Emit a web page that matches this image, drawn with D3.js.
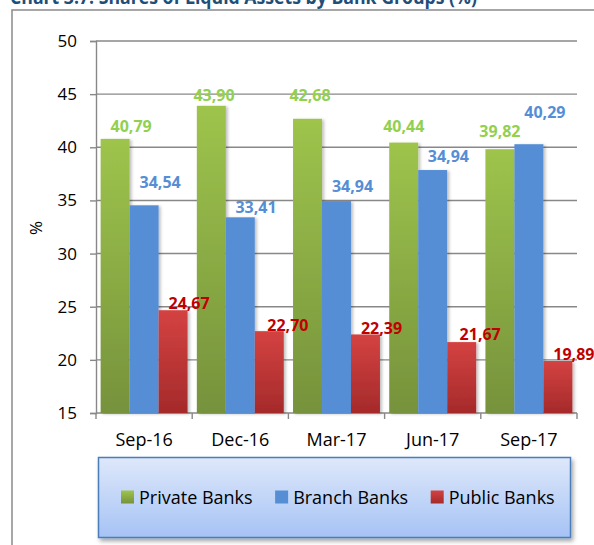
<!DOCTYPE html>
<html>
<head>
<meta charset="utf-8">
<script src="https://cdn.jsdelivr.net/npm/d3@7"></script>
<style>
  html, body { margin: 0; padding: 0; background: #ffffff; }
  svg { display: block; font-family: "Open Sans", "DejaVu Sans", sans-serif; }
</style>
</head>
<body>
<svg id="chart" width="594" height="545"></svg>
<script>
// ---------- data ----------
const title = "Chart 3.7: Shares of Liquid Assets by Bank Groups (%)";
const categories = ["Sep-16", "Dec-16", "Mar-17", "Jun-17", "Sep-17"];
const seriesNames = ["Private Banks", "Branch Banks", "Public Banks"];
const privateBanks = [40.79, 43.90, 42.68, 40.44, 39.82];
const branchBanks = [34.54, 33.41, 34.94, 37.86, 40.29];
const publicBanks = [24.67, 22.70, 22.39, 21.67, 19.89];
const privateLabels = ["40,79", "43,90", "42,68", "40,44", "39,82"];
const branchLabels = ["34,54", "33,41", "34,94", "34,94", "40,29"];
const publicLabels = ["24,67", "22,70", "22,39", "21,67", "19,89"];
const yTicks = [15, 20, 25, 30, 35, 40, 45, 50];
const yTitle = "%";

// ---------- layout (label placement nudges, px) ----------
const labelNudge = {
  "Private Banks": { dx: [16, 2.7, 2.5, 0, 0], dy: [-12.8, -10.9, -23.5, -16.5, -18.5] },
  "Branch Banks":  { dx: [16, 15.7, 16, 15.7, 16], dy: [-23.2, -10.6, -15.2, -14.5, -32.6] },
  "Public Banks":  { dx: [16, 18.6, 16, 18.5, 16], dy: [-7.6, -6.5, -6.5, -8.2, -7.1] }
};

const seriesValues = { "Private Banks": privateBanks, "Branch Banks": branchBanks, "Public Banks": publicBanks };
const seriesLabels = { "Private Banks": privateLabels, "Branch Banks": branchLabels, "Public Banks": publicLabels };
const labelColor = { "Private Banks": "#92D050", "Branch Banks": "#558ED5", "Public Banks": "#C00000" };

const svg = d3.select("#chart");
const defs = svg.append("defs");

function vGrad(id, top, bottom) {
  const g = defs.append("linearGradient").attr("id", id).attr("x1", 0).attr("y1", 0).attr("x2", 0).attr("y2", 1);
  g.append("stop").attr("offset", "0%").attr("stop-color", top);
  g.append("stop").attr("offset", "100%").attr("stop-color", bottom);
}
vGrad("gGreen", "#9EC44C", "#76923C");
vGrad("gBlue", "#558ED5", "#558ED5");
vGrad("gRed", "#D44242", "#A52A2A");
vGrad("gLegend", "#DEE8FA", "#A6C3F5");
const fill = { "Private Banks": "url(#gGreen)", "Branch Banks": "url(#gBlue)", "Public Banks": "url(#gRed)" };

const shadow = defs.append("filter").attr("id", "shadow").attr("x", "-20%").attr("y", "-20%").attr("width", "150%").attr("height", "150%");
shadow.append("feDropShadow").attr("dx", 2).attr("dy", 1).attr("stdDeviation", 1.5).attr("flood-color", "#000").attr("flood-opacity", 0.25);
const shadow2 = defs.append("filter").attr("id", "shadow2").attr("x", "-10%").attr("y", "-20%").attr("width", "120%").attr("height", "150%");
shadow2.append("feDropShadow").attr("dx", 2).attr("dy", 3).attr("stdDeviation", 2).attr("flood-color", "#000").attr("flood-opacity", 0.35);

// ---------- title & outer frame ----------
svg.append("text")
  .attr("x", 10).attr("y", 4)
  .attr("textLength", 467).attr("lengthAdjust", "spacingAndGlyphs")
  .attr("font-size", 19).attr("font-weight", "bold").attr("fill", "#1F4E79")
  .text(title);

svg.append("rect")
  .attr("x", 12).attr("y", 10).attr("width", 600).attr("height", 560)
  .attr("fill", "none").attr("stroke", "#8A8A8A").attr("stroke-width", 1.5);

// ---------- scales ----------
const plot = { left: 96, right: 577, top: 41, bottom: 413 };
const x = d3.scaleBand().domain(categories).range([plot.left, plot.right]).paddingInner(0).paddingOuter(0);
const xs = d3.scaleBand().domain(seriesNames).range([0, x.bandwidth()]).paddingInner(0).paddingOuter(0.16);
const y = d3.scaleLinear().domain([15, 50]).range([plot.bottom, plot.top]);

// gridlines
svg.append("g").selectAll("line").data(yTicks.filter(t => t !== 15)).join("line")
  .attr("x1", plot.left).attr("x2", plot.right)
  .attr("y1", d => y(d)).attr("y2", d => y(d))
  .attr("stroke", "#888888").attr("stroke-width", 1.4);

// y axis
const yAxis = svg.append("g").attr("transform", `translate(${plot.left},0)`)
  .call(d3.axisLeft(y).tickValues(yTicks).tickSize(6).tickPadding(13).tickFormat(d3.format("d")));
yAxis.select(".domain").attr("stroke", "#888888").attr("stroke-width", 1.4);
yAxis.selectAll(".tick line").attr("stroke", "#888888").attr("stroke-width", 1.4);
yAxis.selectAll(".tick text").attr("font-size", 17).attr("fill", "#000").attr("font-family", "Open Sans");

// y title
svg.append("text")
  .attr("transform", "translate(35,228) rotate(-90)")
  .attr("text-anchor", "middle").attr("dominant-baseline", "central")
  .attr("font-size", 17).attr("fill", "#000")
  .text(yTitle);

// x axis
const xAxis = svg.append("g").attr("transform", `translate(0,${plot.bottom})`)
  .call(d3.axisBottom(x).tickSize(0).tickPadding(20));
xAxis.select(".domain").remove();
xAxis.selectAll(".tick text").attr("font-size", 18).attr("fill", "#000").attr("font-family", "Open Sans");
svg.append("line").attr("x1", plot.left).attr("x2", plot.right).attr("y1", plot.bottom).attr("y2", plot.bottom)
  .attr("stroke", "#888888").attr("stroke-width", 1.4);
const boundaries = categories.map(c => x(c)).concat([x(categories[categories.length - 1]) + x.bandwidth()]);
svg.append("g").selectAll("line").data(boundaries).join("line")
  .attr("x1", d => d).attr("x2", d => d).attr("y1", plot.bottom).attr("y2", plot.bottom + 6)
  .attr("stroke", "#888888").attr("stroke-width", 1.4);

// ---------- bars ----------
const barData = [];
seriesNames.forEach(s => {
  seriesValues[s].forEach((v, i) => barData.push({ s, i, cat: categories[i], v, label: seriesLabels[s][i] }));
});

svg.append("g").selectAll("rect").data(barData).join("rect")
  .attr("x", d => x(d.cat) + xs(d.s))
  .attr("y", d => y(d.v))
  .attr("width", xs.bandwidth())
  .attr("height", d => y(15) - y(d.v))
  .attr("fill", d => fill[d.s])
  .attr("filter", "url(#shadow)");

svg.append("g").selectAll("text").data(barData).join("text")
  .attr("x", d => x(d.cat) + xs(d.s) + xs.bandwidth() / 2 + labelNudge[d.s].dx[d.i])
  .attr("y", d => y(d.v) + labelNudge[d.s].dy[d.i])
  .attr("text-anchor", "middle").attr("dominant-baseline", "central")
  .attr("font-size", 16).attr("font-weight", "bold")
  .attr("fill", d => labelColor[d.s])
  .text(d => d.label);

// ---------- legend ----------
const legend = svg.append("g");
legend.append("rect")
  .attr("x", 98.5).attr("y", 457.5).attr("width", 472).attr("height", 80)
  .attr("fill", "url(#gLegend)").attr("stroke", "#4A7EBB").attr("stroke-width", 1.5)
  .attr("filter", "url(#shadow2)");
let lx = 121;
const ly = 497;
const legendFill = { "Private Banks": "url(#gGreen)", "Branch Banks": "#558ED5", "Public Banks": "url(#gRed)" };
seriesNames.forEach(s => {
  legend.append("rect").attr("x", lx).attr("y", ly - 6.5).attr("width", 13).attr("height", 13).attr("fill", legendFill[s]);
  const t = legend.append("text").attr("x", lx + 18).attr("y", ly)
    .attr("dominant-baseline", "central").attr("font-size", 18).attr("fill", "#000").text(s);
  const w = t.node().getComputedTextLength();
  lx = lx + 18 + w + 22.5;
});
</script>
</body>
</html>
